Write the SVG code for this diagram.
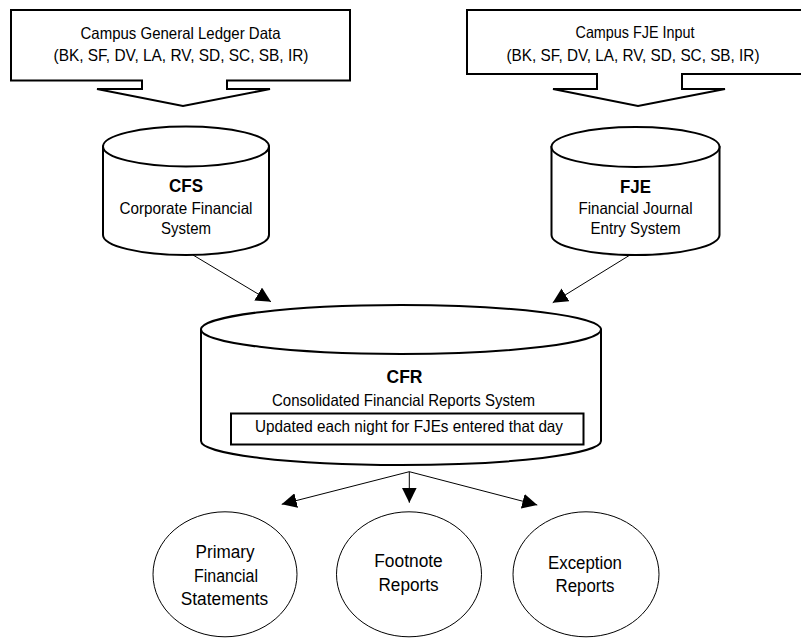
<svg xmlns="http://www.w3.org/2000/svg" width="801" height="638" viewBox="0 0 801 638">
<style>
.thick{fill:#fff;stroke:#000;stroke-width:2;stroke-linejoin:miter}
.thin{fill:#fff;stroke:#000;stroke-width:1}
.conn{fill:none;stroke:#000;stroke-width:1}
text{font-family:"Liberation Sans",Arial,sans-serif;fill:#000;text-anchor:middle}
.t15{font-size:16.5px}
.t17{font-size:17.5px}
.b{font-size:18px;font-weight:bold}
</style>
<defs>
<marker id="ah" viewBox="0 0 15 15" refX="15" refY="7.5" markerWidth="15" markerHeight="15" markerUnits="userSpaceOnUse" orient="auto">
<path d="M0,0 L15,7.5 L0,15 Z" fill="#000"/>
</marker>
</defs>
<rect width="801" height="638" fill="#fff"/>

<g id="campus-gl">
<path class="thick" d="M11,10 H350 V80.5 H227 V89 H270 L183,106 L97,89 H142 V80.5 H11 Z"/>
<text class="t15" x="180.5" y="38.5" textLength="200" lengthAdjust="spacingAndGlyphs">Campus General Ledger Data</text>
<text class="t15" x="181" y="61" textLength="255" lengthAdjust="spacingAndGlyphs">(BK, SF, DV, LA, RV, SD, SC, SB, IR)</text>
</g>

<g id="campus-fje">
<path class="thick" d="M467,10 H804 V74 H682 V89 H725 L638,106 L553,89 H597 V74 H467 Z"/>
<text class="t15" x="635" y="38" textLength="119" lengthAdjust="spacingAndGlyphs">Campus FJE Input</text>
<text class="t15" x="633" y="61" textLength="253" lengthAdjust="spacingAndGlyphs">(BK, SF, DV, LA, RV, SD, SC, SB, IR)</text>
</g>

<g id="cfs">
<path class="thick" d="M103,146.5 V235 A83,20 0 0 0 269,235 V146.5 Z"/>
<ellipse class="thick" cx="186" cy="146.5" rx="83" ry="20"/>
<text class="b" x="186" y="192" textLength="34" lengthAdjust="spacingAndGlyphs">CFS</text>
<text class="t15" x="186" y="213.5" textLength="133" lengthAdjust="spacingAndGlyphs">Corporate Financial</text>
<text class="t15" x="186" y="233.5" textLength="50" lengthAdjust="spacingAndGlyphs">System</text>
</g>

<g id="fje">
<path class="thick" d="M551.5,147 V235 A84,20 0 0 0 719.5,235 V147 Z"/>
<ellipse class="thick" cx="635.5" cy="147" rx="84" ry="20"/>
<text class="b" x="635.5" y="193" textLength="31" lengthAdjust="spacingAndGlyphs">FJE</text>
<text class="t15" x="635.5" y="214" textLength="114" lengthAdjust="spacingAndGlyphs">Financial Journal</text>
<text class="t15" x="635.5" y="234" textLength="90" lengthAdjust="spacingAndGlyphs">Entry System</text>
</g>

<g id="cfr">
<path class="thick" d="M201,329.5 V441 A200,24 0 0 0 601,441 V329.5 Z"/>
<ellipse class="thick" cx="401" cy="329.5" rx="200" ry="24.5"/>
<text class="b" x="404.5" y="382.5" textLength="36" lengthAdjust="spacingAndGlyphs">CFR</text>
<text class="t15" x="403.5" y="406" textLength="263" lengthAdjust="spacingAndGlyphs">Consolidated Financial Reports System</text>
<rect class="thick" x="231" y="413.5" width="352.5" height="31"/>
<text class="t15" x="409" y="432" textLength="308" lengthAdjust="spacingAndGlyphs">Updated each night for FJEs entered that day</text>
</g>

<g id="primary">
<ellipse class="thin" cx="225" cy="574.3" rx="72" ry="62.5"/>
<text class="t17" x="225" y="558" textLength="59" lengthAdjust="spacingAndGlyphs">Primary</text>
<text class="t17" x="226" y="581.5" textLength="64" lengthAdjust="spacingAndGlyphs">Financial</text>
<text class="t17" x="224.5" y="605" textLength="87.5" lengthAdjust="spacingAndGlyphs">Statements</text>
</g>

<g id="footnote">
<ellipse class="thin" cx="409" cy="574.3" rx="72.5" ry="62.5"/>
<text class="t17" x="408.5" y="567" textLength="68.5" lengthAdjust="spacingAndGlyphs">Footnote</text>
<text class="t17" x="408.5" y="590.5" textLength="60" lengthAdjust="spacingAndGlyphs">Reports</text>
</g>

<g id="exception">
<ellipse class="thin" cx="586" cy="574.3" rx="73" ry="62.5"/>
<text class="t17" x="585" y="568.5" textLength="74" lengthAdjust="spacingAndGlyphs">Exception</text>
<text class="t17" x="585" y="592" textLength="59" lengthAdjust="spacingAndGlyphs">Reports</text>
</g>

<g id="connectors">
<line class="conn" x1="193" y1="255" x2="271" y2="301.7" marker-end="url(#ah)"/>
<line class="conn" x1="630" y1="255" x2="552.7" y2="302.7" marker-end="url(#ah)"/>
<line class="conn" x1="409.3" y1="471.7" x2="281.7" y2="504.3" marker-end="url(#ah)"/>
<line class="conn" x1="409.3" y1="471.7" x2="409.3" y2="502.7" marker-end="url(#ah)"/>
<line class="conn" x1="409.3" y1="471.7" x2="537.3" y2="505" marker-end="url(#ah)"/>
</g>
</svg>
